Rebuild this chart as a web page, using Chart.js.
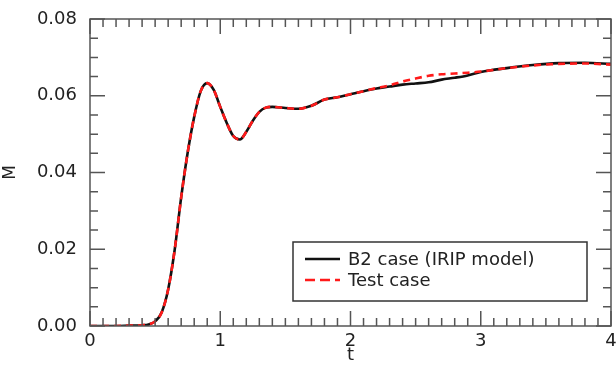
<!DOCTYPE html>
<html>
<head>
<meta charset="utf-8">
<script src="https://cdn.jsdelivr.net/npm/chart.js@4/dist/chart.umd.min.js"></script>
<style>
  html, body { margin: 0; padding: 0; background: #fff; }
  #wrap { width: 616px; height: 366px; }
</style>
</head>
<body>
<div id="wrap"><canvas id="chart" width="616" height="366"></canvas></div>
<script>
// time axis (t) and the two curves
const tValues = [0, 0.1, 0.2, 0.3, 0.4, 0.45, 0.5, 0.55, 0.6, 0.65, 0.7, 0.75, 0.8, 0.85, 0.9, 0.95,
    1.0, 1.05, 1.1, 1.15, 1.2, 1.25, 1.3, 1.35, 1.4, 1.5, 1.6, 1.7, 1.8, 1.9, 2.0, 2.1, 2.2,
    2.3, 2.4, 2.5, 2.6, 2.7, 2.8, 2.9, 3.0, 3.2, 3.4, 3.6, 3.8, 4.0];
const b2Values = [0, 0, 0, 0.0001, 0.0002, 0.0004, 0.0012, 0.0035, 0.0095, 0.0198, 0.0335, 0.0452,
    0.0545, 0.0612, 0.0633, 0.0615, 0.0571, 0.0529, 0.0495, 0.0486, 0.0506, 0.0535, 0.0558, 0.0569,
    0.0571, 0.0568, 0.0566, 0.0574, 0.0590, 0.0596, 0.0604, 0.0612, 0.0619, 0.0624, 0.0629, 0.0632,
    0.0635, 0.0642, 0.0647, 0.0653, 0.0662, 0.0672, 0.0680, 0.0685, 0.0686, 0.0683];
const testValues = [0, 0, 0, 0.0001, 0.0002, 0.0004, 0.0012, 0.0035, 0.0095, 0.0198, 0.0335, 0.0452,
    0.0545, 0.0612, 0.0633, 0.0615, 0.0571, 0.0529, 0.0495, 0.0486, 0.0506, 0.0535, 0.0558, 0.0569,
    0.0571, 0.0568, 0.0566, 0.0574, 0.0590, 0.0596, 0.0604, 0.0612, 0.0620, 0.0627, 0.0637, 0.0645,
    0.0652, 0.0656, 0.0658, 0.0660, 0.0663, 0.0672, 0.0679, 0.0683, 0.0684, 0.0681];

const seriesLabels = ['B2 case (IRIP model)', 'Test case'];
const xTickValues = [0, 1, 2, 3, 4];
const yTickValues = [0, 0.02, 0.04, 0.06, 0.08];

const FONT = 'DejaVu Sans';
const AXIS_COLOR = '#555';
const TEXT_COLOR = '#222';

function toPoints(ys) {
    return tValues.map((t, i) => ({ x: t, y: ys[i] }));
}

// frame + inward major/minor ticks on all four sides
const frameTicks = {
    id: 'frameTicks',
    afterDraw(chart) {
        const { ctx, chartArea: a, scales } = chart;
        const xs = scales.x, ys = scales.y;
        ctx.save();
        ctx.strokeStyle = AXIS_COLOR;
        ctx.lineWidth = 1.5;
        ctx.strokeRect(a.left, a.top, a.right - a.left, a.bottom - a.top);
        ctx.beginPath();
        for (let i = 0; i <= 40; i++) {
            const px = xs.getPixelForValue(i / 10);
            const len = (i % 10 === 0) ? 15 : 8;
            ctx.moveTo(px, a.bottom); ctx.lineTo(px, a.bottom - len);
            ctx.moveTo(px, a.top); ctx.lineTo(px, a.top + len);
        }
        for (let i = 0; i <= 16; i++) {
            const py = ys.getPixelForValue(i * 0.005);
            const len = (i % 4 === 0) ? 15 : 8;
            ctx.moveTo(a.left, py); ctx.lineTo(a.left + len, py);
            ctx.moveTo(a.right, py); ctx.lineTo(a.right - len, py);
        }
        ctx.stroke();
        ctx.restore();
    }
};

// boxed legend inside the plot, lower right
const boxLegend = {
    id: 'boxLegend',
    afterDraw(chart) {
        const { ctx, chartArea: a } = chart;
        const left = a.left + 203, top = a.top + 223, w = 294, h = 59;
        ctx.save();
        ctx.fillStyle = '#fff';
        ctx.fillRect(left, top, w, h);
        ctx.strokeStyle = '#333';
        ctx.lineWidth = 1.5;
        ctx.strokeRect(left, top, w, h);
        const rows = [
            { label: seriesLabels[0], color: '#111', dash: [] },
            { label: seriesLabels[1], color: '#ff1a1a', dash: [10, 5] }
        ];
        ctx.font = '18px "' + FONT + '"';
        ctx.textBaseline = 'middle';
        rows.forEach((r, i) => {
            const y = top + 17 + i * 21;
            ctx.beginPath();
            ctx.setLineDash(r.dash);
            ctx.strokeStyle = r.color;
            ctx.lineWidth = 2.5;
            ctx.moveTo(left + 12, y);
            ctx.lineTo(left + 47, y);
            ctx.stroke();
            ctx.setLineDash([]);
            ctx.fillStyle = TEXT_COLOR;
            ctx.fillText(r.label, left + 55, y + 1);
        });
        ctx.restore();
    }
};

function noOverflow(scale) {
    scale.paddingLeft = 0;
    scale.paddingRight = 0;
    scale.paddingTop = 0;
    scale.paddingBottom = 0;
}

const ctx = document.getElementById('chart').getContext('2d');

new Chart(ctx, {
    type: 'scatter',
    data: {
        datasets: [
            {
                label: seriesLabels[1],
                data: toPoints(testValues),
                showLine: true,
                borderColor: '#ff1a1a',
                borderWidth: 2.6,
                borderDash: [7, 5],
                pointRadius: 0,
                cubicInterpolationMode: 'monotone',
                order: 0
            },
            {
                label: seriesLabels[0],
                data: toPoints(b2Values),
                showLine: true,
                borderColor: '#111',
                borderWidth: 2.6,
                pointRadius: 0,
                cubicInterpolationMode: 'monotone',
                order: 1
            }
        ]
    },
    options: {
        responsive: false,
        animation: false,
        layout: { padding: { top: 19, right: 5, left: 0, bottom: 0 } },
        plugins: {
            legend: { display: false },
            tooltip: { enabled: false }
        },
        scales: {
            x: {
                type: 'linear',
                min: 0,
                max: 4,
                afterFit(scale) { scale.height = 40; noOverflow(scale); },
                afterBuildTicks(scale) { scale.ticks = xTickValues.map(v => ({ value: v })); },
                grid: { display: false, drawTicks: false },
                border: { display: false },
                ticks: {
                    color: TEXT_COLOR,
                    padding: 5,
                    font: { family: FONT, size: 18 },
                    callback: v => String(v)
                },
                title: {
                    display: true,
                    text: 't',
                    color: TEXT_COLOR,
                    padding: { top: 0, bottom: 0 },
                    font: { family: FONT, size: 18 }
                }
            },
            y: {
                type: 'linear',
                min: 0,
                max: 0.08,
                afterFit(scale) { scale.width = 90; noOverflow(scale); },
                afterBuildTicks(scale) { scale.ticks = yTickValues.map(v => ({ value: v })); },
                grid: { display: false, drawTicks: false },
                border: { display: false },
                ticks: {
                    color: TEXT_COLOR,
                    padding: 13,
                    font: { family: FONT, size: 18 },
                    callback: v => v.toFixed(2)
                },
                title: {
                    display: true,
                    text: 'M',
                    color: TEXT_COLOR,
                    padding: { top: 0, bottom: 4 },
                    font: { family: FONT, size: 17 }
                }
            }
        }
    },
    plugins: [frameTicks, boxLegend]
});
</script>
</body>
</html>
